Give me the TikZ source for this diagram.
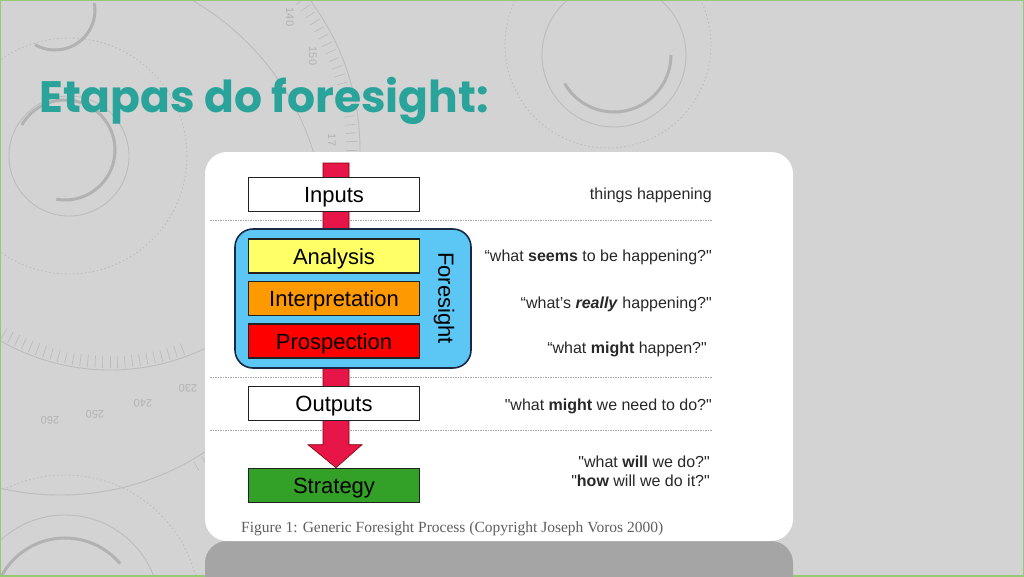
\documentclass[tikz,border=0pt]{standalone}
\usepackage{fontspec}
\setmainfont{Liberation Sans}
\newfontfamily\titlefont{Poppins}
\newfontfamily\capfont{Liberation Serif}
\usetikzlibrary{calc}
\definecolor{bgc}{RGB}{211,211,211}
\definecolor{deco}{RGB}{188,188,188}
\definecolor{decothick}{RGB}{178,178,178}
\definecolor{teal1}{RGB}{42,164,154}
\definecolor{boxline}{RGB}{34,34,34}
\definecolor{crimson}{RGB}{232,22,72}
\definecolor{fsblue}{RGB}{92,198,245}
\definecolor{fsline}{RGB}{24,40,70}
\definecolor{yel}{RGB}{255,255,102}
\definecolor{ora}{RGB}{255,153,0}
\definecolor{redb}{RGB}{255,0,0}
\definecolor{grn}{RGB}{51,160,40}
\definecolor{qtext}{RGB}{40,40,40}
\definecolor{captc}{RGB}{95,95,95}
\definecolor{frame}{RGB}{150,200,120}
\definecolor{refl}{RGB}{165,165,165}
\begin{document}
\begin{tikzpicture}[x=1pt,y=-1pt,
  stagebox/.style={draw=boxline, line width=1.6pt, minimum width=171pt, minimum height=34pt, inner sep=0pt, font=\fontsize{22}{24}\selectfont, text=black, text height=16pt, text depth=0pt},
  quote/.style={anchor=east, font=\fontsize{16}{19}\selectfont, text=qtext, inner sep=0pt, align=right},
  sep/.style={draw=gray!70, line width=0.8pt, dash pattern=on 1.5pt off 1pt},
  decoline/.style={draw=deco, line width=0.9pt},
  decothk/.style={draw=decothick, line width=3pt},
  decodot/.style={draw=deco, line width=0.9pt, dash pattern=on 1.5pt off 2.5pt},
  deconum/.style={text=decothick, font=\fontsize{11}{12}\selectfont, inner sep=0pt}]
\useasboundingbox (0,0) rectangle (1024,576);
\fill[bgc] (0,0) rectangle (1024,576);
% background decoration
\begin{scope}
\clip (0,0) rectangle (1024,576);
\draw[decoline] (614,55) circle (72);
\draw[decothk] (614,55) ++(57,0) arc[start angle=0, end angle=150, radius=57];
\draw[decodot] (608,45) circle (103);
\draw[decoline] (69,156) circle (60);
\draw[decothk] (65,150) ++(-150:50) arc[start angle=-150, end angle=100, radius=50];
\draw[decodot] (69,156) circle (118);
\draw[decothk] (55,10) ++(-10:40) arc[start angle=-10, end angle=120, radius=40];
\draw[decoline] (60,230) circle (265);
\draw[decoline] (110,150) ++(-75:250) arc[start angle=-75, end angle=25, radius=250];
\draw[decoline] (110,150) ++(55:220) arc[start angle=55, end angle=155, radius=220];
\draw[decoline] (65,610) circle (95);
\draw[decothk] (65,610) ++(-160:72) arc[start angle=-160, end angle=-40, radius=72];
\draw[decodot] (65,610) circle (135);
\foreach \a in {-10,-8,...,60} {
  \draw[deco, line width=0.7pt] (60,230) ++(\a:268) -- ++(\a:10);
}
\foreach \a in {-74,-72,...,24} {
  \draw[deco, line width=0.7pt] (110,150) ++(\a:236) -- ++(\a:11);
}
\foreach \a in {70,72,...,140} {
  \draw[deco, line width=0.7pt] (110,150) ++(\a:206) -- ++(\a:12);
}
\node[deconum, rotate=180] (n260) at (50,420) {260};
\node[deconum, rotate=180] (n250) at (95,414) {250};
\node[deconum, rotate=180] (n240) at (143,403) {240};
\node[deconum, rotate=180] (n230) at (188,388) {230};
\node[deconum, rotate=-90] (n140) at (290,17) {140};
\node[deconum, rotate=-90] (n150) at (313,56) {150};
\node[deconum, rotate=-90] (n17) at (332,140) {17};
\end{scope}
\draw[frame, line width=2pt] (0,0) rectangle (1024,576);
% reflection
\fill[refl, rounded corners=22pt] (205,541) rectangle (793,640);
% white panel
\node[name=panel, fill=white, rounded corners=22pt, minimum width=588pt, minimum height=389pt, inner sep=0pt] at (499,346.5) {};
% title
\node[name=title, anchor=west, inner sep=0pt, text=teal1, font=\titlefont\bfseries\fontsize{44}{50}\selectfont] at (39,101) {Etapas do foresight:};
% separators
\coordinate (s1a) at (210,220); \coordinate (s1b) at (712,220);
\coordinate (s2a) at (210,377); \coordinate (s2b) at (712,377);
\coordinate (s3a) at (210,430); \coordinate (s3b) at (712,430);
\draw[sep] (s1a) -- (s1b);
\draw[sep] (s2a) -- (s2b);
\draw[sep] (s3a) -- (s3b);
% strategy first (for arrow tip reference)
\node[stagebox, fill=grn, name=strat] at (334,485.5) {Strategy};
\coordinate (top) at (336,163);
% red bar + arrow
\draw[fill=crimson, draw=red!50!black, line width=0.6pt]
  ($(top)+(-13,0)$) -- ($(top)+(13,0)$) -- ($(strat.north)+(15,-23)$) -- ($(strat.north)+(28,-23)$)
  -- ($(strat.north)+(2,0)$) -- ($(strat.north)+(-26,-23)$) -- ($(strat.north)+(-11,-23)$) -- cycle;
% Foresight box
\node[name=fs, draw=fsline, fill=fsblue, line width=1.6pt, rounded corners=18pt, minimum width=236pt, minimum height=139pt, inner sep=0pt] at (353,298.5) {};
\node[name=fslabel, rotate=-90, inner sep=0pt, font=\fontsize{22}{24}\selectfont] at (444,298) {Foresight};
% stage boxes
\node[stagebox, fill=white, name=inputs] at (334,194.5) {Inputs};
\node[stagebox, fill=yel, name=analysis] at (334,256) {Analysis};
\node[stagebox, fill=ora, name=interp] at (334,298.5) {Interpretation};
\node[stagebox, fill=redb, name=prosp] at (334,341) {Prospection};
\node[stagebox, fill=white, name=outputs] at (334,403.5) {Outputs};
% quotes
\node[quote, name=q1] at (712,195) {things happening};
\node[quote, name=q2] at (712,257) {“what \textbf{seems} to be happening?\textquotedbl};
\node[quote, name=q3] at (712,304) {“what’s \textbf{\itshape really} happening?\textquotedbl};
\node[quote, name=q4] at (707,349) {“what \textbf{might} happen?\textquotedbl};
\node[quote, name=q5] at (712,406) {\textquotedbl what \textbf{might} we need to do?\textquotedbl};
\node[quote, name=q6] at (710,471) {\textquotedbl what \textbf{will} we do?\textquotedbl\\\textquotedbl\textbf{how} will we do it?\textquotedbl};
% caption
\node[name=caption, anchor=west, inner sep=0pt, text=captc, font=\capfont\fontsize{15.5}{18}\selectfont] at (241,529) {Figure 1: Generic Foresight Process (Copyright Joseph Voros 2000)};
\end{tikzpicture}
\end{document}
